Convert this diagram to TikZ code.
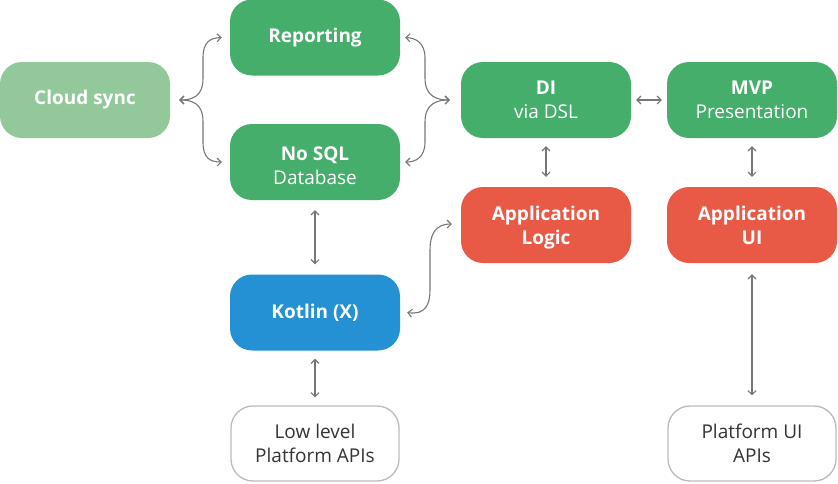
\documentclass[tikz,border=0pt]{standalone}
\usepackage{fontspec}
\setmainfont{Open Sans}
\usetikzlibrary{arrows.meta}
\definecolor{cgreen}{HTML}{45AE6B}
\definecolor{clight}{HTML}{93C99A}
\definecolor{cblue}{HTML}{2391D3}
\definecolor{cred}{HTML}{E85A45}
\definecolor{cline}{HTML}{777777}
\definecolor{cborder}{HTML}{BBBBBB}
\definecolor{ctext}{HTML}{333333}
\begin{document}
\begin{tikzpicture}[x=1pt,y=1pt,
  box/.style={rounded corners=22pt,minimum width=170pt,minimum height=76pt,inner sep=0pt,
    align=center,text=white,font=\fontsize{19}{24}\selectfont},
  gbox/.style={box,fill=cgreen},
  lbox/.style={box,fill=clight},
  bbox/.style={box,fill=cblue},
  rbox/.style={box,fill=cred},
  wbox/.style={box,fill=white,draw=cborder,line width=1.3pt,text=ctext,minimum width=168pt,minimum height=75pt},
  arr/.style={draw=cline,line width=1.1pt,{Straight Barb[length=4pt,width=8pt]}-{Straight Barb[length=4pt,width=8pt]}}]
\useasboundingbox (0,0) rectangle (838,-483);
\node[lbox] (cloud) at (85,-100) {\textbf{Cloud sync}};
\node[gbox] (rep) at (315,-37.5) {\textbf{Reporting}};
\node[gbox] (nosql) at (315,-162) {\rule{0pt}{21pt}\textbf{No SQL}\\Database};
\node[bbox] (kotlin) at (315,-312.5) {\textbf{Kotlin (X)}};
\node[wbox] (low) at (315,-443.5) {Low level\\Platform APIs};
\node[gbox] (di) at (546,-100) {\textbf{DI}\\via DSL};
\node[gbox] (mvp) at (752,-100) {\textbf{MVP}\\Presentation};
\node[rbox] (logic) at (546,-225) {\textbf{Application}\\\textbf{Lo\smash{g}ic}};
\node[rbox] (ui) at (752,-225) {\textbf{Application}\\\textbf{UI}};
\node[wbox] (pui) at (752,-443.5) {Platform UI\\APIs};
% brace left
\coordinate (cl) at ([xshift=9pt]cloud.east);
\coordinate (rl) at ([xshift=-8pt]rep.west);
\coordinate (nl) at ([xshift=-8pt]nosql.west);
\draw[arr] (cl) .. controls +(20,0) and +(0,-12) .. (203,-78) -- (203,-58) .. controls (203,-42) and (210,-38) .. (rl);
\draw[arr] (cl) .. controls +(20,0) and +(0,12) .. (203,-122) -- (203,-142) .. controls (203,-158) and (210,-162) .. (nl);
% brace right
\coordinate (rr) at ([xshift=5pt]rep.east);
\coordinate (nr) at ([xshift=5pt]nosql.east);
\coordinate (dl) at ([xshift=-11pt]di.west);
\draw[arr] (rr) .. controls (415,-38) and (425,-42) .. (425,-58) -- (425,-78) .. controls +(0,-12) and +(-20,0) .. (dl);
\draw[arr] (nr) .. controls (415,-162) and (425,-158) .. (425,-142) -- (425,-122) .. controls +(0,12) and +(-20,0) .. (dl);
% kotlin to logic
\coordinate (kr) at ([xshift=7pt]kotlin.east);
\coordinate (ll) at ([xshift=-9pt,yshift=1pt]logic.west);
\draw[arr] (kr) .. controls (425,-315) and (430,-305) .. (430,-290) -- (430,-250) .. controls (430,-235) and (435,-224) .. (ll);
% straight
\draw[arr] ([xshift=5pt]di.east) -- ([xshift=-5pt]mvp.west);
\draw[arr] ([yshift=-10pt]nosql.south) -- ([yshift=10pt]kotlin.north);
\draw[arr] ([yshift=-8pt]kotlin.south) -- ([yshift=8pt]low.north);
\draw[arr] ([yshift=-8pt]di.south) -- ([yshift=10pt]logic.north);
\draw[arr] ([yshift=-8pt]mvp.south) -- ([yshift=10pt]ui.north);
\draw[arr] ([yshift=-11pt]ui.south) -- ([yshift=10pt]pui.north);
\end{tikzpicture}
\end{document}
